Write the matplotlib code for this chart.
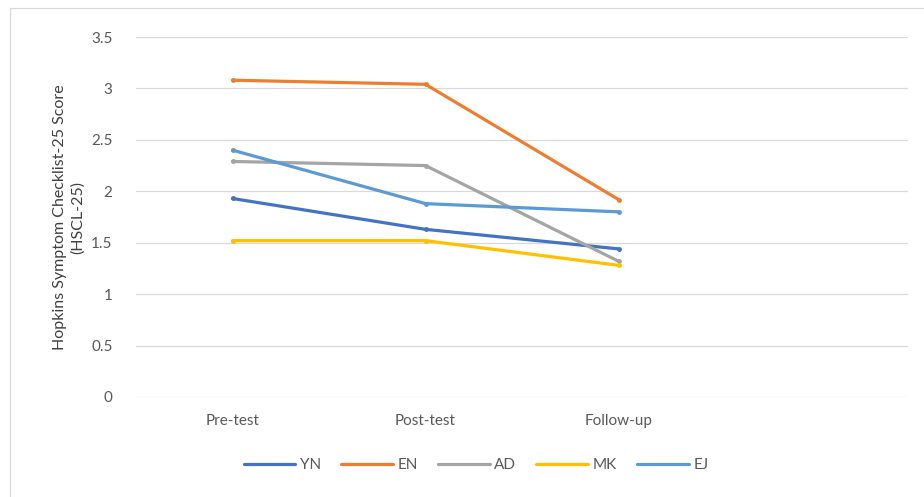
import matplotlib
matplotlib.use("Agg")
import matplotlib.pyplot as plt
from matplotlib.lines import Line2D

plt.rcParams['font.family'] = ['Lato', 'DejaVu Sans']

# categories; the fourth slot is left empty on the axis
categories = ['Pre-test', 'Post-test', 'Follow-up', '']
participants = ['YN', 'EN', 'AD', 'MK', 'EJ']
yn = [1.93, 1.63, 1.44]
en = [3.08, 3.04, 1.92]
ad = [2.29, 2.25, 1.32]
mk = [1.52, 1.52, 1.28]
ej = [2.40, 1.88, 1.80]
series = [yn, en, ad, mk, ej]
colors = ['#4472C4', '#ED7D31', '#A5A5A5', '#FFC000', '#5B9BD5']

fig = plt.figure(figsize=(9.24, 4.97), dpi=100)
ax = fig.add_axes([136 / 924, 100 / 497, 772 / 924, 360 / 497])

x = list(range(len(categories)))
for vals, name, c in zip(series, participants, colors):
    ax.plot(x[:len(vals)], vals, color=c, lw=2.3, marker='o', ms=2.5,
            solid_capstyle='round', solid_joinstyle='round', label=name)

ax.set_xlim(-0.5, len(categories) - 0.5)
ax.set_ylim(0, 3.5)
ax.set_yticks([0, 0.5, 1, 1.5, 2, 2.5, 3, 3.5])
ax.set_yticklabels(['0', '0.5', '1', '1.5', '2', '2.5', '3', '3.5'])
ax.set_xticks(x)
ax.set_xticklabels(categories)
ax.tick_params(length=0, labelsize=11, labelcolor='#595959')
ax.tick_params(axis='y', pad=17)
ax.tick_params(axis='x', pad=12)
ax.grid(axis='y', color='#D9D9D9', lw=0.9)
ax.set_axisbelow(True)
for s in ax.spines.values():
    s.set_visible(False)

ax.set_ylabel('Hopkins Symptom Checklist-25 Score\n(HSCL-25)', fontsize=11.5,
              color='#404040', labelpad=4, linespacing=1.4)

handles = [Line2D([], [], color=c, lw=2.3, solid_capstyle='round') for c in colors]
fig.legend(handles, participants, loc='center', bbox_to_anchor=(476 / 924, 1 - 465 / 497),
           ncol=5, frameon=False, fontsize=11, handlelength=3.4, handletextpad=0.3,
           columnspacing=1.3, labelcolor='#595959')

# chart frame edges
fig.add_artist(Line2D([10 / 924, 1], [1 - 8 / 497, 1 - 8 / 497], color='#D9D9D9', lw=0.9))
fig.add_artist(Line2D([10 / 924, 10 / 924], [0, 1 - 8 / 497], color='#D9D9D9', lw=0.9))

fig.savefig('out.png', dpi=100)
